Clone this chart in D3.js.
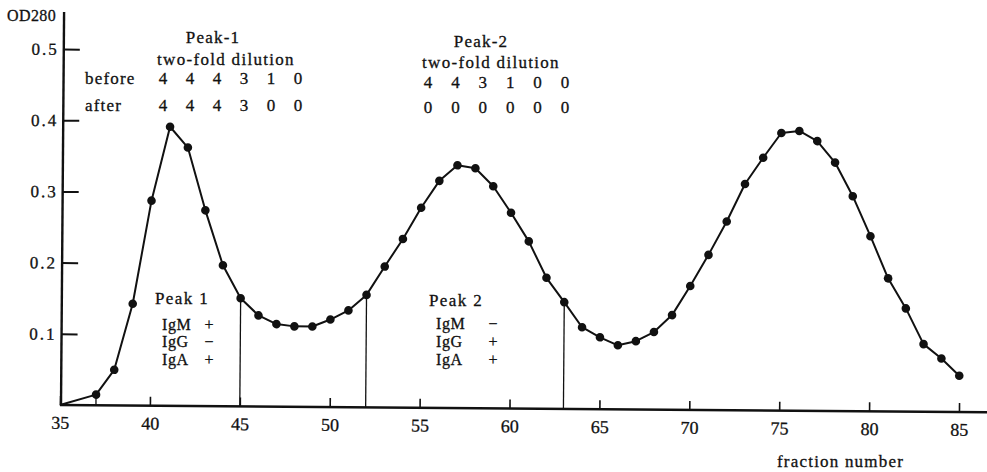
<!DOCTYPE html>
<html>
<head>
<meta charset="utf-8">
<script src="https://cdn.jsdelivr.net/npm/d3@7"></script>
<style>
  body { margin: 0; background: #fff; }
  svg { display: block; }
</style>
</head>
<body>
<div id="chart"></div>
<script>
// fraction number vs OD280
const fractions = [35, 37, 38, 39, 40, 41, 42, 43, 44, 45, 46, 47, 48, 49, 50, 51, 52, 53, 54, 55, 56, 57, 58, 59, 60,
  61, 62, 63, 64, 65, 66, 67, 68, 69, 70, 71, 72, 73, 74, 75, 76, 77, 78, 79, 80, 81, 82, 83, 84, 85];
const od280 = [0, 0.015, 0.050, 0.143, 0.288, 0.392, 0.363, 0.275, 0.198, 0.152, 0.128, 0.116, 0.113, 0.113, 0.123,
  0.136, 0.158, 0.198, 0.237, 0.281, 0.319, 0.341, 0.337, 0.312, 0.275, 0.235, 0.184, 0.150, 0.115, 0.101,
  0.090, 0.096, 0.109, 0.133, 0.174, 0.218, 0.265, 0.318, 0.355, 0.390, 0.393, 0.379, 0.349, 0.302, 0.246,
  0.187, 0.145, 0.095, 0.075, 0.051];
const cutFractions = [37, 45, 52, 63];
const xTicks = [35, 40, 45, 50, 55, 60, 65, 70, 75, 80, 85];
const yTicks = [0.1, 0.2, 0.3, 0.4, 0.5];

// dilution titres
const peak1Before = ['4', '4', '4', '3', '1', '0'];
const peak1After = ['4', '4', '4', '3', '0', '0'];
const peak2Before = ['4', '4', '3', '1', '0', '0'];
const peak2After = ['0', '0', '0', '0', '0', '0'];
const igNames = ['IgM', 'IgG', 'IgA'];
const peak1Ig = ['+', '\u2212', '+'];
const peak2Ig = ['\u2212', '+', '+'];

const width = 987;
const height = 472;
const x0 = 61;
const yBase = 405;
const serif = '"Liberation Serif", "Times New Roman", serif';
const ink = '#111';

const x = d3.scaleLinear().domain([35, 85]).range([60, 959]);
const y = d3.scaleLinear().domain([0, 0.5]).range([yBase, 49]);

const svg = d3.select('#chart').append('svg')
  .attr('width', width)
  .attr('height', height)
  .style('font-family', serif);

// the scanned figure sits slightly skewed
const g = svg.append('g')
  .attr('transform', `rotate(0.45, ${x0}, ${yBase})`);

// axes
const yAxis = d3.axisLeft(y).tickValues(yTicks).tickSizeInner(-16).tickSizeOuter(0).tickPadding(5)
  .tickFormat(d3.format('.1f'));
const xAxis = d3.axisBottom(x).tickValues(xTicks).tickSizeInner(-9).tickSizeOuter(0).tickPadding(11)
  .tickFormat(d3.format('d'));

const gy = g.append('g').attr('transform', `translate(${x0},0)`).call(yAxis)
  .attr('font-family', null).attr('font-size', null);
gy.select('.domain').remove();
gy.selectAll('line').attr('stroke', ink).attr('stroke-width', 2);
gy.selectAll('text').style('font-family', serif).style('font-size', '17px')
  .attr('letter-spacing', 2).attr('fill', ink).attr('stroke', ink).attr('stroke-width', 0.3);

const gx = g.append('g').attr('transform', `translate(0,${yBase})`).call(xAxis)
  .attr('font-family', null).attr('font-size', null);
gx.select('.domain').remove();
gx.selectAll('line').attr('stroke', ink).attr('stroke-width', 1.6);
gx.selectAll('text').style('font-family', serif).style('font-size', '18px')
  .attr('fill', ink).attr('stroke', ink).attr('stroke-width', 0.3);

g.append('line')
  .attr('x1', x0).attr('x2', x0).attr('y1', 12).attr('y2', yBase + 1)
  .attr('stroke', ink).attr('stroke-width', 2.4);
g.append('line')
  .attr('x1', x0 - 1).attr('x2', width + 10).attr('y1', yBase).attr('y2', yBase)
  .attr('stroke', ink).attr('stroke-width', 2.4);

// data
const points = fractions.map((f, i) => ({ f, v: od280[i] }));

g.append('g').selectAll('line').data(cutFractions).join('line')
  .attr('x1', d => x(d)).attr('x2', d => x(d))
  .attr('y1', d => y(od280[fractions.indexOf(d)]))
  .attr('y2', yBase)
  .attr('stroke', ink).attr('stroke-width', 1.3);

g.append('path')
  .datum(points)
  .attr('fill', 'none')
  .attr('stroke', ink)
  .attr('stroke-width', 2)
  .attr('stroke-linejoin', 'round')
  .attr('d', d3.line().x(d => x(d.f)).y(d => y(d.v)));

g.append('g').selectAll('circle').data(points.filter(d => d.f !== 35)).join('circle')
  .attr('cx', d => x(d.f)).attr('cy', d => y(d.v)).attr('r', 4.3)
  .attr('fill', ink);

// labels (page coordinates)
const t = svg.append('g').attr('fill', ink).attr('stroke', ink).attr('stroke-width', 0.3);

function label(txt, px, py, size, spacing, anchor) {
  return t.append('text')
    .attr('x', px).attr('y', py)
    .attr('text-anchor', anchor || 'start')
    .attr('letter-spacing', spacing || 0)
    .style('font-size', `${size}px`)
    .text(txt);
}

label('OD280', 7, 21, 16, 0.4);
label('fraction number', 777, 467, 17, 1.2);

function titreRow(vals, cx0, step, yPos) {
  t.append('g').selectAll('text').data(vals).join('text')
    .attr('x', (d, i) => cx0 + i * step)
    .attr('y', yPos)
    .attr('text-anchor', 'middle')
    .style('font-size', '17px')
    .text(d => d);
}

label('Peak-1', 213, 43, 17, 1.2, 'middle');
label('two-fold dilution', 226, 65, 17, 1.3, 'middle');
label('before', 85, 84, 17, 1.2);
label('after', 85, 111, 17, 1.2);
titreRow(peak1Before, 163, 27, 84);
titreRow(peak1After, 163, 27, 111);

label('Peak-2', 481, 47, 17, 1.2, 'middle');
label('two-fold dilution', 491, 68, 17, 1.3, 'middle');
titreRow(peak2Before, 428, 27.4, 88);
titreRow(peak2After, 428, 27.4, 113);

// immunoglobulin boxes
function igBlock(title, signs, xLeft, signX, yTitle, yRows) {
  label(title, xLeft - 7, yTitle, 17, 1.4);
  igNames.forEach((name, i) => {
    label(name, xLeft, yRows[i], 16, 0.6);
    label(signs[i], signX, yRows[i], 16, 0, 'middle');
  });
}

igBlock('Peak 1', peak1Ig, 162, 209, 304, [330, 347, 365]);
igBlock('Peak 2', peak2Ig, 436, 493, 306, [329, 347, 365]);
</script>
</body>
</html>
